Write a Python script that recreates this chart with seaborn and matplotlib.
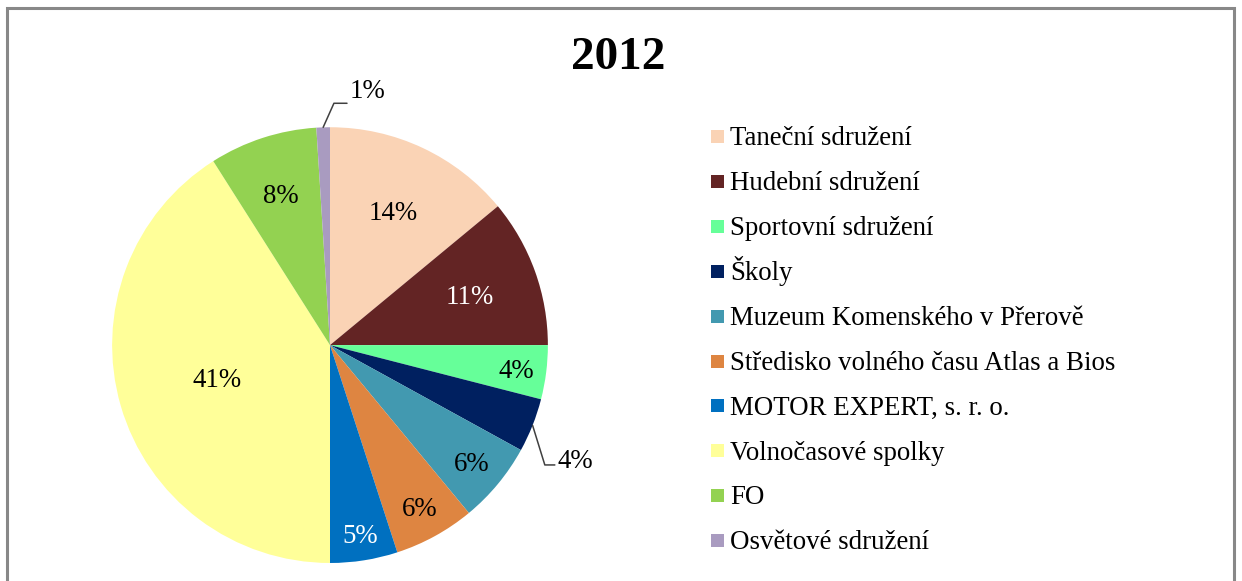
import seaborn as sns
import matplotlib.pyplot as plt
import numpy as np
from matplotlib.patches import Rectangle

sns.set_style('white')
plt.rcParams['font.family'] = ['Liberation Serif', 'DejaVu Serif']
plt.rcParams['text.color'] = 'black'

categories = ['Taneční sdružení', 'Hudební sdružení', 'Sportovní sdružení', 'Školy',
              'Muzeum Komenského v Přerově', 'Středisko volného času Atlas a Bios',
              'MOTOR EXPERT, s. r. o.', 'Volnočasové spolky', 'FO', 'Osvětové sdružení']
values = [14, 11, 4, 4, 6, 6, 5, 41, 8, 1]
colors = ['#FAD3B5', '#632424', '#66FF99', '#002060', '#4299B0',
          '#DE8541', '#0070C0', '#FFFF99', '#93D251', '#A99BC0']
label_colors = ['black', 'white', 'black', 'black', 'black',
                'black', 'white', 'black', 'black', 'black']
# radial position of each inside percentage label (fraction of radius)
label_dist = [0.68, 0.68, 0.86, None, 0.845, 0.85, 0.88, 0.54, 0.73, None]

W, H = 1242, 581
fig = plt.figure(figsize=(W / 100, H / 100), dpi=100)
fig.patches.append(Rectangle((7 / W, -0.01), 1227 / W, 1 - 8 / H + 0.01,
                             transform=fig.transFigure, fill=False,
                             edgecolor='#888888', linewidth=2.2))
ax = fig.add_axes([0.0902, 0.031, 0.351, 0.750])

wedges, _ = ax.pie(values, colors=colors, startangle=90, counterclock=False,
                   wedgeprops=dict(linewidth=0))
ax.set_aspect('equal')
ax.set_xlim(-1, 1)
ax.set_ylim(-1, 1)

FS = 19.4
half_cap = 0.041  # half digit height in radius units, to centre glyphs visually
for i, w in enumerate(wedges):
    d = label_dist[i]
    if d is None:
        continue
    mid = np.deg2rad((w.theta1 + w.theta2) / 2)
    ax.text(d * np.cos(mid), d * np.sin(mid) - half_cap, f'{values[i]}%', ha='center',
            va='baseline', fontsize=FS, color=label_colors[i])

# leader lines for the small slices: (elbow x, elbow y, horizontal run, text y offset)
leaders = {3: (0.986, -0.55, 0.046, 0.027), 9: (0.018, 1.11, 0.06, 0.064)}
for i, (ex, ey, run, dy) in leaders.items():
    w = wedges[i]
    mid = np.deg2rad((w.theta1 + w.theta2) / 2)
    x0, y0 = np.cos(mid), np.sin(mid)
    ax.plot([x0, ex, ex + run], [y0, ey, ey], color='#404040', lw=1.1, clip_on=False)
    ax.text(ex + run + 0.01, ey + dy - half_cap, f'{values[i]}%', ha='left',
            va='baseline', fontsize=FS, clip_on=False)

fig.text(0.498, 1 - 58 / H, '2012', ha='center', va='center', fontsize=34,
         fontweight='bold')

# legend
sq = 13
for i, (lab, c) in enumerate(zip(categories, colors)):
    yc = 136.5 + i * 44.9
    fig.patches.append(Rectangle((711 / W, 1 - (yc + sq / 2) / H), sq / W, sq / H,
                                 transform=fig.transFigure, facecolor=c,
                                 edgecolor='none'))
    fig.text(730 / W, 1 - (yc + 8.7) / H, lab, ha='left', va='baseline', fontsize=FS)

fig.savefig('out.png', dpi=100)
